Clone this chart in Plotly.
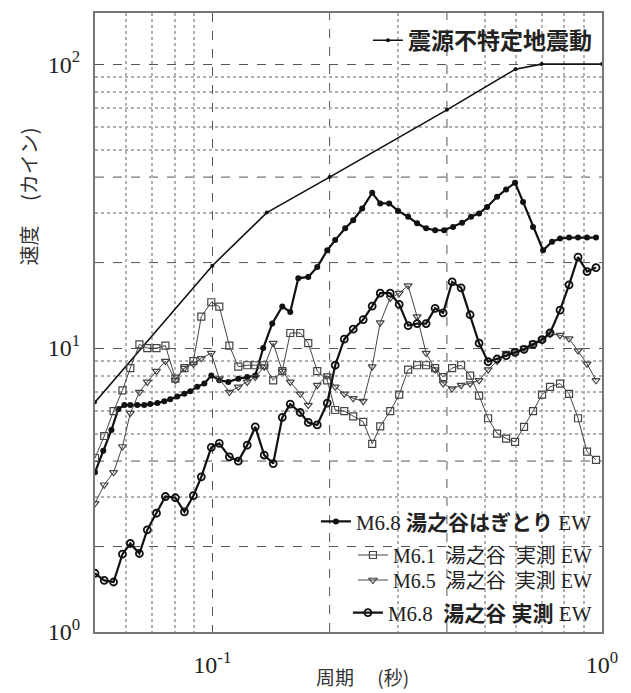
import math
import plotly.graph_objects as go

# ---------------- data ----------------
spec_period = [0.05, 0.1, 0.138, 0.2, 0.4, 0.6, 0.7, 1.0]
spec_vel = [6.45, 19.5, 30.0, 40.0, 69.0, 96.0, 100.0, 100.0]

hag_period = [0.0500, 0.0525, 0.0551, 0.0574, 0.0595, 0.0616, 0.0642, 0.0669, 0.0693, 0.0723,
              0.0753, 0.0780, 0.0813, 0.0848, 0.0878, 0.0915, 0.0954, 0.0994, 0.1042, 0.1099,
              0.1166, 0.1229, 0.1289, 0.1351, 0.1425, 0.1512, 0.1585, 0.1662, 0.1763, 0.1859,
              0.1972, 0.2067, 0.2193, 0.2299, 0.2424, 0.2572, 0.2697, 0.2843, 0.2998, 0.3181,
              0.3354, 0.3537, 0.3730, 0.3934, 0.4148, 0.4375, 0.4614, 0.4837, 0.5072, 0.5380,
              0.5674, 0.5983, 0.6272, 0.6653, 0.7060, 0.7444, 0.7805, 0.8232, 0.8679, 0.9153,
              0.9652]
hag_vel = [3.65, 4.35, 5.15, 6.1, 6.3, 6.3, 6.3, 6.3, 6.35, 6.4,
           6.5, 6.6, 6.75, 6.9, 7.05, 7.3, 7.5, 8.0, 7.7, 7.6,
           7.8, 7.9, 8.0, 10.0, 12.2, 14.0, 13.4, 17.6, 17.8, 19.3,
           22.1, 24.0, 26.4, 28.2, 31.0, 35.2, 32.3, 32.3, 30.4, 29.0,
           27.5, 26.4, 26.0, 26.0, 26.7, 27.6, 29.0, 29.8, 31.4, 34.1,
           36.2, 38.2, 32.7, 26.7, 22.1, 23.7, 24.3, 24.5, 24.5, 24.5,
           24.5]

obs_period = [0.0500, 0.0528, 0.0558, 0.0588, 0.0616, 0.0650, 0.0681, 0.0719, 0.0758, 0.0804,
              0.0848, 0.0894, 0.0937, 0.0994, 0.1042, 0.1106, 0.1166, 0.1229, 0.1289, 0.1359,
              0.1433, 0.1512, 0.1585, 0.1681, 0.1763, 0.1859, 0.1972, 0.2067, 0.2181, 0.2299,
              0.2439, 0.2572, 0.2697, 0.2861, 0.3017, 0.3181, 0.3354, 0.3537, 0.3730, 0.3912,
              0.4125, 0.4350, 0.4587, 0.4837, 0.5101, 0.5380, 0.5674, 0.5983, 0.6310, 0.6653,
              0.7017, 0.7356, 0.7805, 0.8232, 0.8679, 0.9153, 0.9652]
m61_vel = [4.1, 4.9, 6.0, 7.1, 8.5, 10.3, 10.0, 10.0, 10.2, 7.8,
           8.5, 9.0, 12.9, 14.5, 14.0, 10.2, 8.6, 8.7, 8.7, 8.7,
           7.7, 8.3, 11.3, 11.3, 10.4, 8.3, 7.7, 6.05, 6.0, 5.75,
           5.5, 4.6, 5.3, 6.0, 6.85, 8.4, 8.7, 8.7, 8.5, 7.9,
           8.5, 8.7, 8.0, 6.8, 5.66, 5.0, 4.8, 4.67, 5.28, 6.0,
           6.85, 7.3, 7.5, 6.9, 5.66, 4.32, 4.04]
m65_vel = [2.84, 3.3, 3.65, 4.5, 5.9, 7.0, 7.6, 8.3, 9.0, 7.7,
           8.5, 8.8, 9.2, 9.6, 7.8, 7.0, 7.3, 7.6, 7.9, 8.6,
           10.4, 8.3, 7.6, 6.9, 6.3, 7.4, 8.0, 7.3, 6.9, 6.65,
           6.5, 8.6, 12.3, 15.0, 15.6, 16.6, 12.9, 9.6, 8.4, 7.5,
           7.2, 7.4, 7.5, 7.7, 8.4, 9.0, 9.6, 9.7, 10.0, 10.4,
           10.7, 11.2, 11.1, 10.8, 9.8, 8.8, 7.7]
m68_vel = [1.61, 1.52, 1.50, 1.88, 2.05, 1.89, 2.29, 2.62, 3.0, 2.97,
           2.65, 3.02, 3.52, 4.47, 4.62, 4.14, 4.0, 4.55, 5.28, 4.2,
           3.92, 5.7, 6.35, 5.93, 5.47, 5.36, 6.4, 8.7, 10.75, 11.65,
           12.6, 14.05, 15.6, 15.6, 14.25, 12.0, 12.2, 12.2, 13.8, 13.3,
           17.1, 16.3, 13.1, 10.4, 8.95, 9.15, 9.4, 9.65, 9.9, 10.3,
           10.7, 11.3, 13.6, 16.7, 20.9, 18.6, 19.2]

x_tickvals = [0.1, 1.0]
x_ticktext = ["10<sup>-1</sup>", "10<sup>0</sup>"]
x_dash_grid = [0.2, 0.4]
x_minor = [0.06, 0.07, 0.08, 0.09, 0.3, 0.5, 0.6, 0.7, 0.8, 0.9]
y_tickvals = [1, 10, 100]
y_ticktext = ["10<sup>0</sup>", "10<sup>1</sup>", "10<sup>2</sup>"]
y_dash_grid = [2, 4, 20, 40]
y_minor = [3, 5, 6, 7, 8, 9, 30, 50, 60, 70, 80, 90]

NB = "\u00a0"
names = {
    "spec": "<b>震源不特定地震動</b>",
    "hag": "M6.8 <b>湯之谷はぎとり</b> EW",
    "m61": "M6.1" + NB * 2 + "湯之谷" + NB * 2 + "実測" + NB + "EW",
    "m65": "M6.5" + NB * 2 + "湯之谷" + NB * 2 + "実測" + NB + "EW",
    "m68": "M6.8" + NB * 2 + "<b>湯之谷" + NB + "実測</b>" + NB + "EW",
}

SERIF = "Liberation Serif, Noto Sans CJK JP"
JP = "Noto Sans CJK JP"
INK = "#111111"
MAJOR_GRID = "#555555"

fig = go.Figure()
fig.add_trace(go.Scatter(x=spec_period, y=spec_vel, mode="lines+markers", name=names["spec"],
                         line=dict(color=INK, width=1.6), marker=dict(size=4, color=INK),
                         legend="legend", showlegend=True))
fig.add_trace(go.Scatter(x=hag_period, y=hag_vel, mode="lines+markers", name=names["hag"],
                         line=dict(color=INK, width=2.2),
                         marker=dict(symbol="circle", size=6, color=INK),
                         legend="legend2", showlegend=True))
fig.add_trace(go.Scatter(x=obs_period, y=m61_vel, mode="lines+markers", name=names["m61"],
                         line=dict(color="#444444", width=1),
                         marker=dict(symbol="square-open", size=7, color="#444444",
                                     line=dict(width=1.2)),
                         legend="legend3", showlegend=True))
fig.add_trace(go.Scatter(x=obs_period, y=m65_vel, mode="lines+markers", name=names["m65"],
                         line=dict(color="#444444", width=1),
                         marker=dict(symbol="triangle-down-open", size=7, color="#444444",
                                     line=dict(width=1.2)),
                         legend="legend4", showlegend=True))
fig.add_trace(go.Scatter(x=obs_period, y=m68_vel, mode="lines+markers", name=names["m68"],
                         line=dict(color=INK, width=2.2),
                         marker=dict(symbol="circle-open", size=7, color=INK,
                                     line=dict(width=1.8)),
                         legend="legend5", showlegend=True))


def leg(y, size=20, family=SERIF):
    return dict(x=0.99, y=y, xanchor="right", yanchor="middle", visible=True,
                bgcolor="rgba(0,0,0,0)", borderwidth=0,
                font=dict(family=family, size=size, color="#222222"))


axis_common = dict(type="log", showline=True, mirror=True, linecolor="#777777", linewidth=2,
                   showgrid=True, gridcolor=MAJOR_GRID, griddash="dash", gridwidth=1,
                   zeroline=False, ticks="", tickmode="array",
                   tickfont=dict(family="Liberation Serif", size=24, color="#222222"))

shapes = []
for xv in x_dash_grid:
    shapes.append(dict(type="line", xref="x", yref="paper", x0=xv, x1=xv, y0=0, y1=1,
                       layer="below", line=dict(color=MAJOR_GRID, width=1, dash="dash")))
for yv in y_dash_grid:
    shapes.append(dict(type="line", xref="paper", yref="y", x0=0, x1=1, y0=yv, y1=yv,
                       layer="below", line=dict(color=MAJOR_GRID, width=1, dash="dash")))

fig.update_layout(
    width=631, height=693,
    margin=dict(l=95, r=29, t=13, b=61),
    paper_bgcolor="white", plot_bgcolor="white",
    showlegend=True,
    xaxis=dict(axis_common, range=[math.log10(0.05), 0], tickvals=x_tickvals, ticktext=x_ticktext,
               ticklabelstandoff=10,
               minor=dict(tickmode="array", tickvals=x_minor, showgrid=True,
                          gridcolor="#b0b0b0", griddash="dot", gridwidth=1.5)),
    yaxis=dict(axis_common, range=[0, 2.18], tickvals=y_tickvals, ticktext=y_ticktext,
               ticklabelstandoff=8,
               minor=dict(tickmode="array", tickvals=y_minor, showgrid=True,
                          gridcolor="#b0b0b0", griddash="dot", gridwidth=1.5)),
    shapes=shapes,
    legend=leg(0.956, 23, JP),
    legend2=leg(0.178, 21),
    legend3=leg(0.1244),
    legend4=leg(0.084),
    legend5=leg(0.0307, 21),
    annotations=[
        dict(text="速度\u3000 (カイン)", textangle=-90, x=-0.132, y=0.7036,
             xref="paper", yref="paper", xanchor="center", yanchor="middle", showarrow=False,
             font=dict(family=JP, size=20, color="#333333")),
        dict(text="周期\u3000 (秒)", x=0.527, y=-0.072, xref="paper", yref="paper",
             xanchor="center", yanchor="middle",
             showarrow=False, font=dict(family=JP, size=19, color="#333333")),
    ],
)

fig.write_html("out.html")
